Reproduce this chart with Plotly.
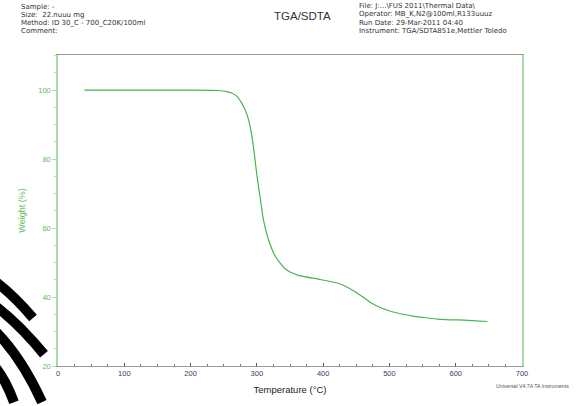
import plotly.graph_objects as go

# ---- data ----
temperature = [40, 100, 150, 200, 242, 255, 262, 270, 277, 283, 287.5, 292.5, 296.5, 300,
               305, 310, 317.6, 327.6, 342.6, 362.6, 392.6, 422.7, 435, 447.7, 460, 472.7,
               487, 502.7, 520, 537.8, 555, 572.8, 592, 612.9, 630, 648]
weight = [100, 100, 100, 100, 99.9, 99.6, 99.2, 98.2, 96.3, 94.0, 91.4, 86.7, 81.0, 75.4,
          68.8, 62.3, 56.6, 51.9, 48.2, 46.3, 45.2, 44.0, 43.0, 41.6, 40.0, 38.3,
          36.9, 35.8, 35.0, 34.4, 34.0, 33.6, 33.4, 33.3, 33.1, 32.9]
x_ticks = [0, 100, 200, 300, 400, 500, 600, 700]
y_ticks = [20, 40, 60, 80, 100]

header_left = ["Sample: -", "Size:  22.nuuu mg", "Method: ID 30_C - 700_C20K/100ml", "Comment:"]
header_right = ["File: J:...\\FUS 2011\\Thermal Data\\", "Operator: MB_K,N2@100ml,R133uuuz",
                "Run Date: 29-Mar-2011 04:40", "Instrument: TGA/SDTA851e,Mettler Toledo"]

W, H = 579, 406
ML, MR, MT, MB = 58, 57, 55, 33
PW, PH = W - ML - MR, H - MT - MB

def px(x):
    return (x - ML) / PW

def py(y):
    return (H - MB - y) / PH

FONT = "Liberation Sans, Arial, sans-serif"
HFONT = "DejaVu Sans, sans-serif"
GREEN_LINE = "#46b450"
GREEN_AXIS = "#a9dca9"
GREEN_TEXT = "#5cbd5c"

fig = go.Figure()
fig.add_trace(go.Scatter(x=temperature, y=weight, mode="lines",
                         line=dict(color=GREEN_LINE, width=1.2, shape="spline", smoothing=0.6),
                         showlegend=False, hoverinfo="skip"))

fig.update_layout(
    width=W, height=H,
    margin=dict(l=ML, r=MR, t=MT, b=MB),
    paper_bgcolor="white", plot_bgcolor="white",
    font=dict(family=FONT, size=8, color="#333"),
    xaxis=dict(range=[0, 700], tickvals=x_ticks, ticktext=[str(v) for v in x_ticks],
               showgrid=False, zeroline=False, showline=True, linecolor="#9a9a9a", linewidth=1,
               mirror=True, ticks="inside", ticklen=3, tickcolor="#555",
               minor=dict(dtick=25, ticks="inside", ticklen=2, tickcolor="#777"),
               tickfont=dict(family=FONT, size=7.5, color="#3a3a6a"),
               title=dict(text="Temperature (°C)", font=dict(family=FONT, size=9.5, color="#222"),
                          standoff=9)),
    yaxis=dict(range=[20, 110.2], tickvals=y_ticks, ticktext=[str(v) for v in y_ticks],
               showgrid=False, zeroline=False, showline=True, linecolor=GREEN_AXIS, linewidth=1.5,
               mirror=True, ticks="outside", ticklen=4, tickcolor=GREEN_AXIS,
               minor=dict(dtick=5, ticks="outside", ticklen=2, tickcolor=GREEN_AXIS),
               tickfont=dict(family=FONT, size=7.5, color=GREEN_TEXT),
               title=dict(text="Weight (%)", font=dict(family=FONT, size=9, color=GREEN_TEXT),
                          standoff=11)),
)

annots = []
for i, t in enumerate(header_left):
    annots.append(dict(text=t, x=px(20), y=py(5.5 + i * 8.4), xref="paper", yref="paper",
                       xanchor="left", yanchor="middle", showarrow=False, borderpad=0,
                       font=dict(family=HFONT, size=7, color="#333")))
for i, t in enumerate(header_right):
    annots.append(dict(text=t, x=px(358), y=py(5 + i * 8.4), xref="paper", yref="paper",
                       xanchor="left", yanchor="middle", showarrow=False, borderpad=0,
                       font=dict(family=HFONT, size=7, color="#333")))
annots.append(dict(text="TGA/SDTA", x=px(302), y=py(15), xref="paper", yref="paper",
                   xanchor="center", yanchor="middle", showarrow=False,
                   font=dict(family=FONT, size=11.5, color="#333")))
annots.append(dict(text="Universal V4.7A TA Instruments", x=px(571), y=py(393), xref="paper",
                   yref="paper", xanchor="right", yanchor="middle", showarrow=False,
                   font=dict(family=FONT, size=5.2, color="#555")))
fig.update_layout(annotations=annots)

# scanner artifact stripes in the lower-left corner
stripes = [
    [(-4, 287), (15, 302), (33, 324)],
    [(-4, 312), (21, 332), (44, 361)],
    [(-4, 338), (22, 365), (42, 410)],
    [(-4, 375), (6, 388), (14, 410)],
]
shapes = []
for (a, b, c) in stripes:
    path = "M {},{} Q {},{} {},{}".format(px(a[0]), py(a[1]), px(b[0]), py(b[1]), px(c[0]), py(c[1]))
    shapes.append(dict(type="path", path=path, xref="paper", yref="paper",
                       line=dict(color="black", width=10), layer="above"))
fig.update_layout(shapes=shapes)

fig.write_html("out.html")
